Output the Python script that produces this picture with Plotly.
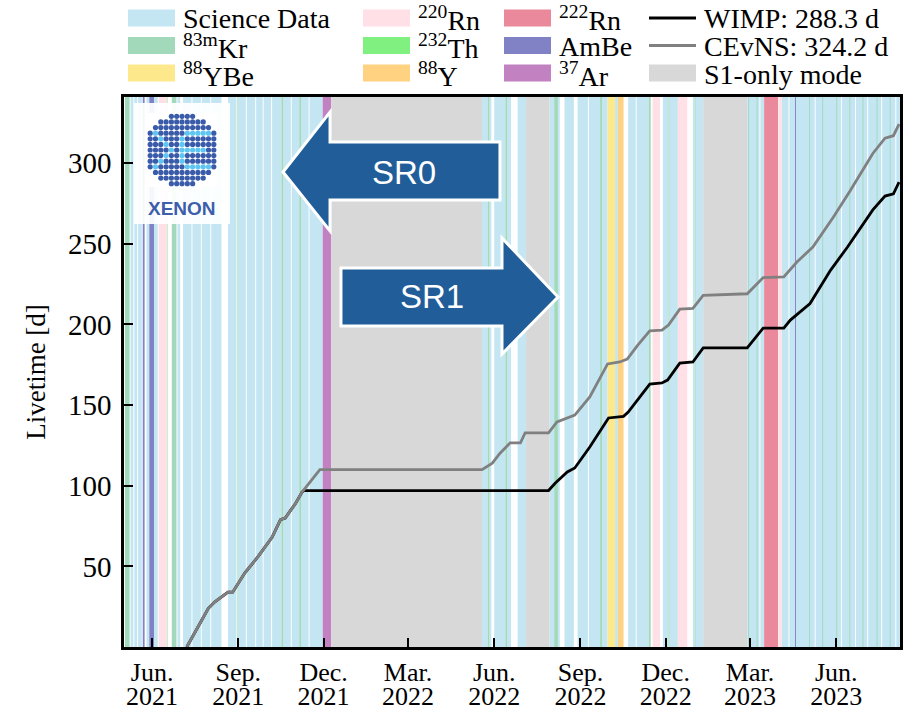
import plotly.graph_objects as go
import pandas as pd

# ---------- livetime curves ----------
WIMP_DATES = [
    "2021-07-08", "2021-07-31", "2021-08-07", "2021-08-21", "2021-08-26", "2021-09-08",
    "2021-09-22", "2021-10-07", "2021-10-16", "2021-10-21", "2021-11-01", "2021-11-08",
    "2021-11-10", "2022-07-29", "2022-08-05", "2022-08-18", "2022-08-26", "2022-09-11",
    "2022-10-01", "2022-10-17", "2022-10-22", "2022-11-02", "2022-11-14", "2022-11-27",
    "2022-12-03", "2022-12-16", "2022-12-30", "2023-01-10", "2023-02-26", "2023-03-15",
    "2023-04-06", "2023-04-13", "2023-05-04", "2023-05-26", "2023-06-13", "2023-07-10",
    "2023-07-23", "2023-08-01", "2023-08-07",
]
WIMP_LIVETIME = [
    0, 24, 28, 34, 34, 46,
    56, 68, 79, 80, 89, 96,
    97, 97, 101.5, 108.5, 111, 124,
    142, 143, 145.7, 154, 163, 163.7,
    165.5, 176, 176.7, 185.4, 185.4, 197.7,
    197.7, 202.7, 213, 233.7, 248, 271,
    279.6, 281, 288.3,
]

CEVNS_DATES = [
    "2021-07-08", "2021-07-31", "2021-08-07", "2021-08-21", "2021-08-26", "2021-09-08",
    "2021-09-22", "2021-10-07", "2021-10-16", "2021-10-21", "2021-11-01", "2021-11-08",
    "2021-11-27", "2022-05-19", "2022-05-30", "2022-06-07", "2022-06-18", "2022-06-29",
    "2022-07-04", "2022-07-29", "2022-08-07", "2022-08-26", "2022-09-11", "2022-09-30",
    "2022-10-13", "2022-10-21", "2022-11-01", "2022-11-14", "2022-11-27", "2022-12-04",
    "2022-12-16", "2022-12-30", "2023-01-10", "2023-02-26", "2023-03-15", "2023-04-06",
    "2023-04-20", "2023-05-07", "2023-05-29", "2023-06-16", "2023-07-10", "2023-07-23",
    "2023-08-01", "2023-08-07",
]
CEVNS_LIVETIME = [
    0, 24, 28, 34, 34, 46,
    56, 68, 79, 80, 89, 96,
    110, 110, 114, 120, 126.6, 126.6,
    132.7, 132.7, 139.5, 143.8, 155, 175.5,
    176.7, 178.5, 187, 196, 196.5, 199.6,
    209.5, 210, 218, 219, 229, 229.5,
    238.7, 248, 266.6, 283, 306, 315.5,
    317, 324.2,
]

# ---------- run periods (start, end) ----------
SCIENCE = [
    ("2021-05-09", "2021-05-12"), ("2021-05-13", "2021-05-16"), ("2021-05-17", "2021-05-21"),
    ("2021-05-26", "2021-05-29"), ("2021-06-03", "2021-06-07"), ("2021-06-28", "2021-07-01"),
    ("2021-07-04", "2021-07-13"), ("2021-07-14", "2021-07-23"), ("2021-07-24", "2021-08-02"),
    ("2021-08-03", "2021-08-14"), ("2021-08-21", "2021-08-30"), ("2021-09-01", "2021-09-09"),
    ("2021-09-10", "2021-09-19"), ("2021-09-20", "2021-09-27"), ("2021-09-28", "2021-10-06"),
    ("2021-10-07", "2021-10-17"), ("2021-10-19", "2021-10-27"), ("2021-10-28", "2021-11-05"),
    ("2021-11-07", "2021-11-15"), ("2021-11-16", "2021-11-30"),
    ("2022-05-19", "2022-05-25"), ("2022-05-27", "2022-05-29"), ("2022-06-01", "2022-06-13"),
    ("2022-06-15", "2022-06-19"), ("2022-06-26", "2022-07-05"),
    ("2022-07-30", "2022-08-04"), ("2022-08-08", "2022-08-10"), ("2022-08-15", "2022-08-25"),
    ("2022-08-29", "2022-09-09"), ("2022-09-10", "2022-09-22"), ("2022-09-24", "2022-09-30"),
    ("2022-10-08", "2022-10-11"), ("2022-10-22", "2022-10-30"), ("2022-10-31", "2022-11-13"),
    ("2022-11-28", "2022-12-04"), ("2022-12-05", "2022-12-14"), ("2022-12-30", "2023-01-01"),
    ("2023-01-02", "2023-01-10"),
    ("2023-02-26", "2023-03-11"), ("2023-03-12", "2023-03-16"), ("2023-04-04", "2023-04-11"),
    ("2023-04-12", "2023-04-18"), ("2023-04-19", "2023-05-09"), ("2023-05-10", "2023-06-06"),
    ("2023-06-07", "2023-06-21"), ("2023-06-22", "2023-07-04"), ("2023-07-05", "2023-07-19"),
    ("2023-07-20", "2023-08-03"), ("2023-08-04", "2023-08-09"),
]
KR83M = [
    ("2021-05-03", "2021-05-08"), ("2021-06-22", "2021-06-27"), ("2021-08-31", "2021-09-01"),
    ("2021-10-17", "2021-10-19"), ("2021-11-05", "2021-11-07"), ("2022-05-25", "2022-05-27"),
    ("2022-06-13", "2022-06-15"), ("2022-08-04", "2022-08-08"), ("2022-09-22", "2022-09-24"),
    ("2022-11-13", "2022-11-15"), ("2022-12-04", "2022-12-05"), ("2023-01-01", "2023-01-02"),
    ("2023-02-27", "2023-02-28"), ("2023-03-08", "2023-03-09"), ("2023-05-03", "2023-05-04"),
    ("2023-05-17", "2023-05-18"), ("2023-06-01", "2023-06-02"), ("2023-06-15", "2023-06-16"),
    ("2023-06-29", "2023-06-30"), ("2023-07-14", "2023-07-15"), ("2023-07-28", "2023-07-29"),
]
RN220 = [("2021-06-08", "2021-06-17"), ("2022-11-17", "2022-11-25"),
         ("2022-12-14", "2022-12-24"), ("2023-04-01", "2023-04-04")]
TH232 = [("2021-06-17", "2021-06-17 12:00")]
YBE88 = [("2022-09-30", "2022-10-08")]
Y88 = [("2022-10-11", "2022-10-17")]
RN222 = [("2023-03-16", "2023-03-31")]
AMBE = [("2021-05-22", "2021-05-24"), ("2021-05-29", "2021-06-03"), ("2023-04-18", "2023-04-19")]
AR37 = [("2021-11-30", "2021-12-09")]
S1_ONLY = [("2021-12-09", "2022-05-19"), ("2022-07-05", "2022-07-30"), ("2023-01-10", "2023-02-26")]

TICK_DATES = ["2021-06-01", "2021-09-01", "2021-12-01", "2022-03-01", "2022-06-01",
              "2022-09-01", "2022-12-01", "2023-03-01", "2023-06-01"]
TICK_MONTHS = ["Jun.", "Sep.", "Dec.", "Mar.", "Jun.", "Sep.", "Dec.", "Mar.", "Jun."]
TICK_YEARS = ["2021", "2021", "2021", "2022", "2022", "2022", "2022", "2023", "2023"]
Y_TICKS = [50, 100, 150, 200, 250, 300]
X_RANGE = ["2021-05-02", "2023-08-08"]

# logo dot pattern: '.' dark dot, 'o' light dot
LOGO_ROWS = [
    "    .....    ",
    "  .........  ",
    " ........... ",
    ".o.....ooooo.",
    "..o...o......",
    "...o..o......",
    "....o.ooooo..",
    "...o..o......",
    "..o...o......",
    ".o.....ooooo.",
    " ........... ",
    "  .........  ",
    "    .....    ",
]

SERIF = "Liberation Serif"
SANS = "Liberation Sans"

# colours per band category
BANDS = [
    ("Science Data", SCIENCE, "#c4e6f3"),
    ("83mKr", KR83M, "#a2d9bb"),
    ("220Rn", RN220, "#ffe0e6"),
    ("232Th", TH232, "#80f080"),
    ("88YBe", YBE88, "#fde98b"),
    ("88Y", Y88, "#ffd281"),
    ("222Rn", RN222, "#ea899b"),
    ("AmBe", AMBE, "#8181c6"),
    ("37Ar", AR37, "#c282c2"),
    ("S1-only mode", S1_ONLY, "#d8d8d8"),
]

# pixel frame of the axes inside the 921x715 page
PL, PR, PT, PB = 124, 900, 97, 647


def px(x):
    return (x - PL) / (PR - PL)


def py(y):
    return (PB - y) / (PB - PT)


def poly(points):
    return "M " + " L ".join(f"{px(x):.4f},{py(y):.4f}" for x, y in points) + " Z"


fig = go.Figure()

for name, periods, color in BANDS:
    for start, end in periods:
        fig.add_vrect(x0=start, x1=end, fillcolor=color, opacity=1,
                      line_width=0, layer="below")

# white backdrop for the logo
fig.add_shape(type="rect", xref="paper", yref="paper",
              x0=px(134), x1=px(230), y0=py(224), y1=py(103),
              fillcolor="white", opacity=0.93, line_width=0, layer="below")

fig.add_trace(go.Scatter(x=pd.to_datetime(WIMP_DATES), y=WIMP_LIVETIME, mode="lines",
                         line=dict(color="black", width=2.8), name="WIMP: 288.3 d",
                         showlegend=False))
fig.add_trace(go.Scatter(x=pd.to_datetime(CEVNS_DATES), y=CEVNS_LIVETIME, mode="lines",
                         line=dict(color="#808080", width=2.8), name="CEvNS: 324.2 d",
                         showlegend=False))
# carrier for the second (year) row of x tick labels
fig.add_trace(go.Scatter(x=pd.to_datetime(TICK_DATES), y=[None] * len(TICK_DATES),
                         xaxis="x3", mode="lines", showlegend=False, hoverinfo="skip"))

# XENON logo dots on their own small axes
dark_x, dark_y, light_x, light_y = [], [], [], []
for r, row in enumerate(LOGO_ROWS):
    for c, ch in enumerate(row):
        if ch == ".":
            dark_x.append(c)
            dark_y.append(r)
        elif ch == "o":
            light_x.append(c)
            light_y.append(r)
fig.add_trace(go.Scatter(x=dark_x, y=dark_y, mode="markers", xaxis="x2", yaxis="y2",
                         marker=dict(size=5.2, color="#3a5ba9"), showlegend=False,
                         hoverinfo="skip"))
fig.add_trace(go.Scatter(x=light_x, y=light_y, mode="markers", xaxis="x2", yaxis="y2",
                         marker=dict(size=5.2, color="#5fc6f2"), showlegend=False,
                         hoverinfo="skip"))
fig.add_annotation(text="<b>XENON</b>", xref="paper", yref="paper", x=px(182), y=py(208),
                   xanchor="center", yanchor="middle",
                   showarrow=False, font=dict(family=SANS, size=19, color="#3d5eab"))

# SR0 / SR1 arrows
ARROW_BLUE = "#215e99"
fig.add_shape(type="path", xref="paper", yref="paper", layer="above",
              path=poly([(283, 172), (330, 112), (330, 142), (500, 142),
                         (500, 200), (330, 200), (330, 231)]),
              fillcolor=ARROW_BLUE, line=dict(color="white", width=3))
fig.add_shape(type="path", xref="paper", yref="paper", layer="above",
              path=poly([(341, 268), (502, 268), (502, 238), (558, 297),
                         (502, 354), (502, 326), (341, 326)]),
              fillcolor=ARROW_BLUE, line=dict(color="white", width=3))
fig.add_annotation(text="SR0", xref="paper", yref="paper", x=px(404), y=py(172),
                   xanchor="center", yanchor="middle",
                   showarrow=False, font=dict(family=SANS, size=33, color="white"))
fig.add_annotation(text="SR1", xref="paper", yref="paper", x=px(432), y=py(296),
                   xanchor="center", yanchor="middle",
                   showarrow=False, font=dict(family=SANS, size=33, color="white"))

# legend drawn by hand (matplotlib style, 4 columns x 3 rows)
LEGEND_LABELS = [
    ["Science Data", "<sup>83m</sup>Kr", "<sup>88</sup>YBe"],
    ["<sup>220</sup>Rn", "<sup>232</sup>Th", "<sup>88</sup>Y"],
    ["<sup>222</sup>Rn", "AmBe", "<sup>37</sup>Ar"],
    ["WIMP: 288.3 d", "CEvNS: 324.2 d", "S1-only mode"],
]
LEGEND_KEYS = [
    ["Science Data", "83mKr", "88YBe"],
    ["220Rn", "232Th", "88Y"],
    ["222Rn", "AmBe", "37Ar"],
    ["WIMP", "CEvNS", "S1-only mode"],
]
band_colors = {name: color for name, _, color in BANDS}
line_colors = {"WIMP": "black", "CEvNS": "#808080"}
col_x = [128, 363, 504, 649]
row_y = [18, 45.5, 73]
for ci, (labels, keys) in enumerate(zip(LEGEND_LABELS, LEGEND_KEYS)):
    for ri, (label, key) in enumerate(zip(labels, keys)):
        x0 = col_x[ci]
        yc = row_y[ri]
        if key in line_colors:
            fig.add_shape(type="line", xref="paper", yref="paper",
                          x0=px(x0), x1=px(x0 + 47), y0=py(yc), y1=py(yc),
                          line=dict(color=line_colors[key], width=3))
        else:
            fig.add_shape(type="rect", xref="paper", yref="paper",
                          x0=px(x0), x1=px(x0 + 47), y0=py(yc + 8.5), y1=py(yc - 8.5),
                          fillcolor=band_colors[key], line_width=0)
        fig.add_annotation(text=label, xref="paper", yref="paper", x=px(x0 + 53), y=py(yc + 1),
                           xanchor="left", yanchor="middle", showarrow=False,
                           font=dict(family=SERIF, size=28, color="black"))

fig.update_layout(
    width=921, height=715,
    margin=dict(l=PL, r=921 - PR, t=PT, b=715 - PB),
    paper_bgcolor="white", plot_bgcolor="white",
    showlegend=False,
    font=dict(family=SERIF, size=28, color="black"),
    xaxis=dict(
        type="date", range=X_RANGE,
        tickvals=TICK_DATES, ticktext=TICK_MONTHS, automargin=False,
        ticks="inside", ticklen=9, tickwidth=2, tickcolor="black",
        showline=True, linecolor="black", linewidth=2.5, mirror=True,
        showgrid=False, zeroline=False, tickfont=dict(family=SERIF, size=26),
    ),
    xaxis3=dict(
        type="date", range=X_RANGE, overlaying="x", anchor="y", side="bottom",
        tickvals=TICK_DATES, ticktext=TICK_YEARS, automargin=False,
        ticks="", showline=False, showgrid=False, zeroline=False,
        ticklabelstandoff=31, tickfont=dict(family=SERIF, size=26),
    ),
    yaxis=dict(
        range=[0, 341], tickvals=Y_TICKS, automargin=False,
        ticks="inside", ticklen=9, tickwidth=2, tickcolor="black",
        showline=True, linecolor="black", linewidth=2.5, mirror=True,
        showgrid=False, zeroline=False, tickfont=dict(family=SERIF, size=29),
        ticklabelstandoff=4,
        title=dict(text="Livetime [d]", font=dict(family=SERIF, size=27)),
    ),
    xaxis2=dict(domain=[px(147), px(217)], range=[-0.6, 12.6], visible=False,
                anchor="y2", fixedrange=True),
    yaxis2=dict(domain=[py(187), py(113)], range=[12.6, -0.6], visible=False,
                anchor="x2", fixedrange=True),
)

fig.write_html("out.html", config={"displayModeBar": False},
               post_script="document.body.style.margin='0px';")
